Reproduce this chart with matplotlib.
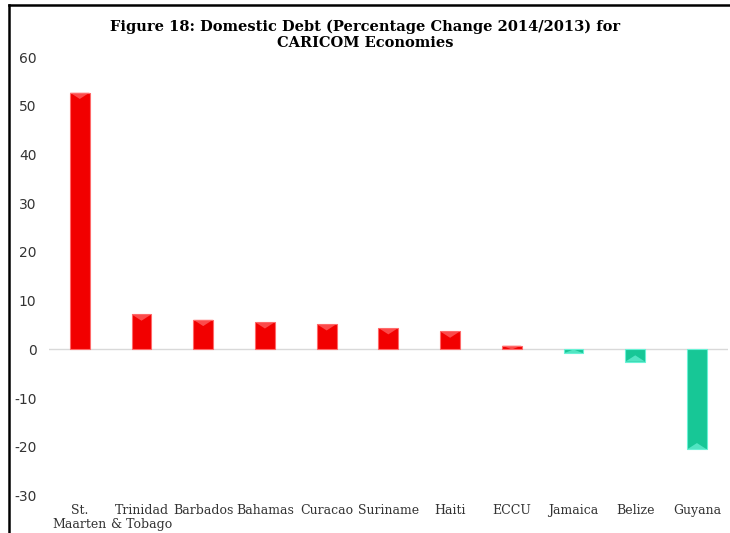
import matplotlib.pyplot as plt
from matplotlib.patches import Polygon

plt.rcParams['axes.unicode_minus'] = False

# Domestic debt, % change 2014 over 2013
countries = ['St.\nMaarten', 'Trinidad\n& Tobago', 'Barbados', 'Bahamas', 'Curacao',
             'Suriname', 'Haiti', 'ECCU', 'Jamaica', 'Belize', 'Guyana']
pct_change = [52.7, 7.2, 6.1, 5.6, 5.2, 4.4, 3.7, 0.8, -0.8, -2.5, -20.5]
y_ticks = [60, 50, 40, 30, 20, 10, 0, -10, -20, -30]

red, red_hi = '#F20000', '#FF6A6A'
green, green_hi = '#17C796', '#6AF2D6'

fig = plt.figure(figsize=(7.3, 5.33), dpi=100)
ax = fig.add_axes([0.067, 0.07, 0.93, 0.823])

x = range(len(countries))
colors = [red if v >= 0 else green for v in pct_change]
edges = [red_hi if v >= 0 else green_hi for v in pct_change]
bars = ax.bar(x, pct_change, width=0.32, color=colors, edgecolor=edges,
              linewidth=0.8, zorder=3)

# bevel highlight at the outer end of each bar
for b, v, hi in zip(bars, pct_change, edges):
    x0, w, h = b.get_x(), b.get_width(), b.get_height()
    d = 1 if v >= 0 else -1
    tri = Polygon([(x0, h), (x0 + w, h), (x0 + w / 2, h - d * min(abs(h), 1.3))],
                  closed=True, facecolor=hi, alpha=0.7,
                  edgecolor='none', zorder=4)
    ax.add_patch(tri)

ax.axhline(0, color='#D9D9D9', linewidth=1, zorder=2)
ax.set_xlim(-0.5, len(countries) - 0.5)
ax.set_ylim(-30, 60)
ax.set_yticks(y_ticks)
ax.set_xticks(list(x))
ax.set_xticklabels(countries, family='DejaVu Serif', fontsize=9,
                   linespacing=1.05)
ax.tick_params(axis='both', length=0, colors='#333333')
ax.tick_params(axis='y', labelsize=10, pad=9)
ax.tick_params(axis='x', pad=6)
for lab in ax.get_yticklabels():
    lab.set_family('DejaVu Sans')
for sp in ax.spines.values():
    sp.set_visible(False)

fig.text(0.5, 0.934, 'Figure 18: Domestic Debt (Percentage Change 2014/2013) for\nCARICOM Economies',
         ha='center', va='center', family='DejaVu Serif', fontweight='bold',
         fontsize=10.5, linespacing=1.2)

# page frame around the chart
fig.add_artist(plt.Line2D([0.012, 0.012], [0, 0.991], color='black', linewidth=1.8))
fig.add_artist(plt.Line2D([0.012, 1], [0.991, 0.991], color='black', linewidth=1.8))

fig.savefig('out.png', dpi=100)
